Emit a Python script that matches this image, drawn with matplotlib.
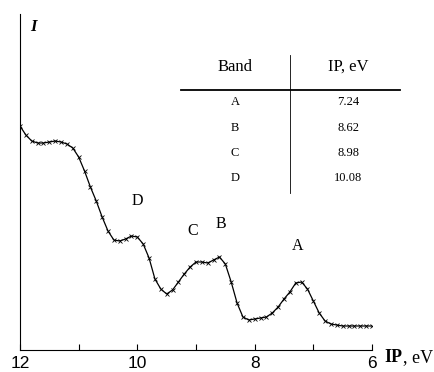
import numpy as np
import matplotlib.pyplot as plt

# photoelectron spectrum (IP in eV, intensity arb. units)
ip = [12.0, 11.9, 11.8, 11.7, 11.6, 11.5, 11.4, 11.3, 11.2, 11.1,
      11.0, 10.9, 10.8, 10.7, 10.6, 10.5, 10.4, 10.3, 10.2, 10.1,
      10.0, 9.9, 9.8, 9.7, 9.6, 9.5, 9.4, 9.3, 9.2, 9.1,
      9.0, 8.9, 8.8, 8.7, 8.6, 8.5, 8.4, 8.3, 8.2, 8.1,
      8.0, 7.9, 7.8, 7.7, 7.6, 7.5, 7.4, 7.3, 7.2, 7.1,
      7.0, 6.9, 6.8, 6.7, 6.6, 6.5, 6.4, 6.3, 6.2, 6.1, 6.0]
intensity = [224, 215, 209, 207, 207, 208, 209, 208, 206, 202,
             193, 179, 163, 149, 133, 119, 110, 109, 111, 114,
             113, 106, 92, 71, 61, 56, 60, 68, 76, 83,
             88, 88, 87, 90, 93, 86, 68, 47, 33, 30,
             31, 32, 33, 37, 43, 51, 58, 67, 68, 61,
             49, 37, 29, 26, 25, 24, 24, 24, 24, 24, 24]

bands = ["A", "B", "C", "D"]
band_ip = [7.24, 8.62, 8.98, 10.08]
label_pos = [7.27, 8.58, 9.05, 10.0]
label_int = [96, 118, 111, 141]

plt.figure(figsize=(4.34, 3.72), dpi=100)
ax = plt.axes([20 / 434, 22 / 372, 352 / 434, 336 / 372])

ax.plot(ip, intensity, color="black", lw=0.9, marker="x", ms=3.5, mew=0.6)

for b, x, y in zip(bands, label_pos, label_int):
    ax.text(x, y, b, ha="center", va="bottom", fontsize=11.5, family="Liberation Serif")

ax.set_xlim(12, 6)
ax.set_ylim(0, 336)
ax.spines["top"].set_visible(False)
ax.spines["right"].set_visible(False)
ax.set_yticks([])
ax.set_xticks([12, 10, 8, 6])
ax.set_xticks([11, 9, 7], minor=True)
ax.tick_params(axis="x", which="both", direction="in", length=4, width=0.8,
               labelsize=12.5, pad=4)
for t in ax.get_xticklabels():
    t.set_family("Liberation Sans")

fig = plt.gcf()
fig.text(384 / 434, 1 - 358 / 372, "IP", fontsize=13, weight="bold",
         family="Liberation Serif", va="center")
fig.text(403 / 434, 1 - 358 / 372, ", eV", fontsize=13,
         family="Liberation Serif", va="center")
fig.text(30 / 434, 1 - 27 / 372, "I", fontsize=12, weight="bold", style="italic",
         family="Liberation Serif", va="center")

# table of band positions
fig.text(235 / 434, 1 - 67 / 372, "Band", fontsize=12, family="Liberation Serif",
         ha="center", va="center")
fig.text(348 / 434, 1 - 67 / 372, "IP, eV", fontsize=12, family="Liberation Serif",
         ha="center", va="center")
rows_y = [102, 128, 153, 178]
for b, v, ry in zip(bands, band_ip, rows_y):
    fig.text(235 / 434, 1 - ry / 372, b, fontsize=9, family="Liberation Serif",
             ha="center", va="center")
    fig.text(348 / 434, 1 - ry / 372, f"{v:.2f}", fontsize=9, family="Liberation Serif",
             ha="center", va="center")
fig.add_artist(plt.Line2D([181 / 434, 400 / 434], [1 - 90 / 372, 1 - 90 / 372],
                          color="black", lw=1.3))
fig.add_artist(plt.Line2D([290 / 434, 290 / 434], [1 - 55 / 372, 1 - 193 / 372],
                          color="black", lw=0.6))

plt.savefig("out.png", dpi=100)
